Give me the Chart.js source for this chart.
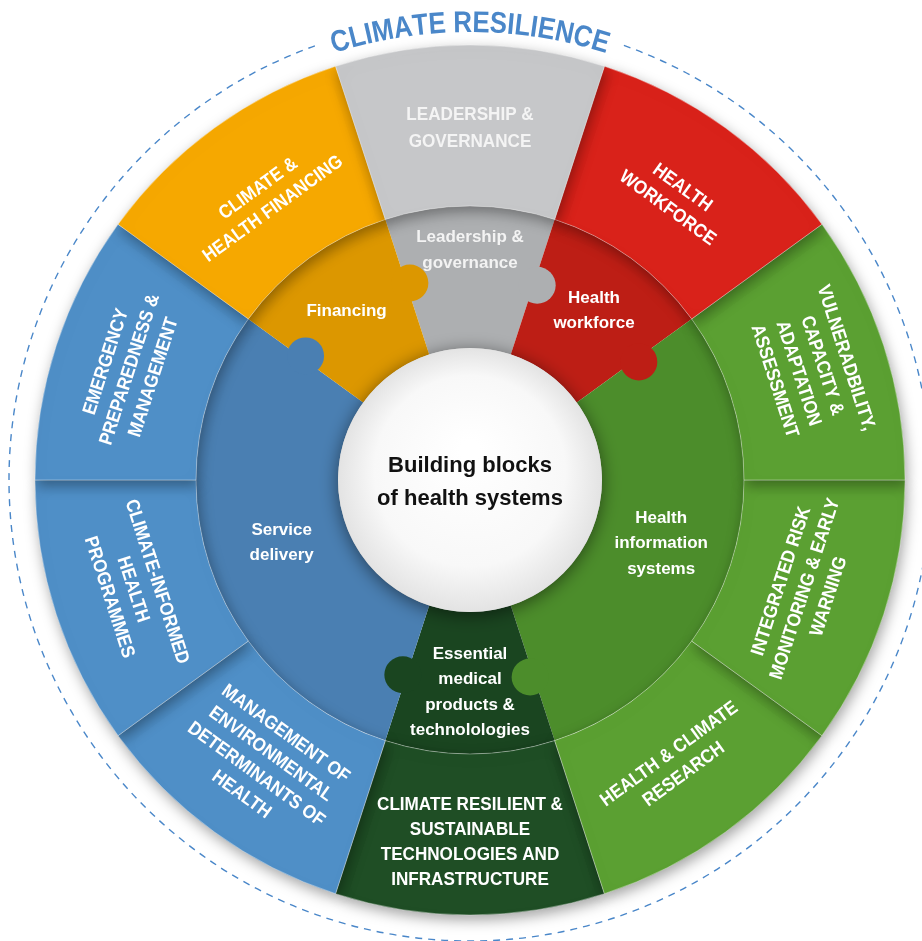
<!DOCTYPE html>
<html><head><meta charset="utf-8">
<script src="https://cdn.jsdelivr.net/npm/chart.js@4.4.1/dist/chart.umd.min.js"></script>
<style>html,body{margin:0;padding:0;background:#fff;}</style>
</head><body>
<canvas id="c" width="922" height="941"></canvas>
<script>
// ---------- DATA ----------
const titleText = 'CLIMATE RESILIENCE';
const centerLines = ['Building blocks', 'of health systems'];
const outerCategories = [
  ['LEADERSHIP &', 'GOVERNANCE'],
  ['HEALTH', 'WORKFORCE'],
  ['VULNERADBILITY,', 'CAPACITY &', 'ADAPTATION', 'ASSESSMENT'],
  ['INTEGRATED RISK', 'MONITORING & EARLY', 'WARNING'],
  ['HEALTH & CLIMATE', 'RESEARCH'],
  ['CLIMATE RESILIENT &', 'SUSTAINABLE', 'TECHNOLOGIES AND', 'INFRASTRUCTURE'],
  ['MANAGEMENT OF', 'ENVIRONMENTAL', 'DETERMINANTS OF', 'HEALTH'],
  ['CLIMATE-INFORMED', 'HEALTH', 'PROGRAMMES'],
  ['EMERGENCY', 'PREPAREDNESS &', 'MANAGEMENT'],
  ['CLIMATE &', 'HEALTH FINANCING']
];
const outerValues = [1, 1, 1, 1, 1, 1, 1, 1, 1, 1];
const innerCategories = [
  ['Leadership &', 'governance'],
  ['Health', 'workforce'],
  ['Health', 'information', 'systems'],
  ['Essential', 'medical', 'products &', 'technolologies'],
  ['Service', 'delivery'],
  ['Financing']
];
const innerValues = [1, 1, 3, 1, 3, 1];

// ---------- STYLE ----------
const outerColors = ['#c6c7c9', '#d9221a', '#5ba032', '#5ba032', '#5ba032', '#1f4e25', '#4f8fc7', '#4f8fc7', '#4f8fc7', '#f6a800'];
const innerColors = ['#adafb1', '#bd1e15', '#4c8d2b', '#1a4520', '#4a7fb2', '#dc9700'];
const outerTextColors = ['#f4f4f4', '#fff', '#fff', '#fff', '#fff', '#fff', '#fff', '#fff', '#fff', '#fff'];
const outerLabelR = [353, 350, 359, 351, 350, 361, 350, 353, 359, 349];
const innerLabelR = [231, 211, 201, 211, 198, 210];
const FONT = '"Liberation Sans", Arial, Helvetica, sans-serif';
const OUTER_R = 435, MID_R = 274, IN_R = 132;

function drawLines(ctx, lines, x, y, rot, font, lh, color, sx) {
  ctx.save();
  ctx.translate(x, y);
  ctx.rotate(rot);
  ctx.scale(sx, 1);
  ctx.font = font; ctx.fillStyle = color;
  ctx.textAlign = 'center'; ctx.textBaseline = 'middle';
  const n = lines.length;
  lines.forEach((t, i) => ctx.fillText(t, 0, (i - (n - 1) / 2) * lh + 1.5));
  ctx.restore();
}

function drawArcText(ctx, text, cx, cy, R, font, color, sx) {
  ctx.save();
  ctx.font = font; ctx.fillStyle = color;
  ctx.textAlign = 'center'; ctx.textBaseline = 'alphabetic';
  const chars = [...text];
  const widths = chars.map(ch => ctx.measureText(ch).width * sx);
  const total = widths.reduce((a, b) => a + b, 0);
  let acc = -total / 2;
  chars.forEach((ch, i) => {
    const ang = (acc + widths[i] / 2) / R;
    ctx.save();
    ctx.translate(cx + R * Math.sin(ang), cy - R * Math.cos(ang));
    ctx.rotate(ang);
    ctx.scale(sx, 1);
    ctx.fillText(ch, 0, 0);
    ctx.restore();
    acc += widths[i];
  });
  ctx.restore();
}

const wheelPlugin = {
  id: 'wheel',
  beforeDatasetDraw(chart, args) {
    if (args.index !== 0) return;
    const ctx = chart.ctx;
    const els = args.meta.data.slice().sort((p, q) =>
      Math.sin((q.startAngle + q.endAngle) / 2) - Math.sin((p.startAngle + p.endAngle) / 2));
    ctx.save();
    ctx.shadowColor = 'rgba(0,0,0,0.36)';
    ctx.shadowBlur = 14; ctx.shadowOffsetX = 2; ctx.shadowOffsetY = 5;
    els.forEach(e => e.draw(ctx, chart.chartArea));
    ctx.restore();
    return false;
  },
  afterDatasetDraw(chart, args) {
    if (args.index !== 1) return;
    const ctx = chart.ctx;
    args.meta.data.forEach((e, i) => {
      const a = e.endAngle + 0.018;
      const r = (e.innerRadius + e.outerRadius) / 2 + 3;
      ctx.save();
      ctx.beginPath();
      ctx.arc(e.x + r * Math.cos(a), e.y + r * Math.sin(a), 18.5, 0, Math.PI * 2);
      ctx.fillStyle = innerColors[i];
      ctx.fill();
      ctx.restore();
    });
  },
  afterDatasetsDraw(chart) {
    const ctx = chart.ctx;
    const m0 = chart.getDatasetMeta(0), m1 = chart.getDatasetMeta(1);
    const cx = m0.data[0].x, cy = m0.data[0].y;
    const inner = m1.data[0].innerRadius;

    // centre disc
    ctx.save();
    ctx.shadowColor = 'rgba(0,0,0,0.5)'; ctx.shadowBlur = 18; ctx.shadowOffsetY = 3;
    const g = ctx.createRadialGradient(cx, cy - 30, 10, cx, cy, inner);
    g.addColorStop(0, '#ffffff'); g.addColorStop(0.7, '#f8f8f8'); g.addColorStop(1, '#e3e3e3');
    ctx.beginPath(); ctx.arc(cx, cy, inner, 0, Math.PI * 2); ctx.fillStyle = g; ctx.fill();
    ctx.restore();

    ctx.save();
    ctx.font = 'bold 22px ' + FONT; ctx.fillStyle = '#111'; ctx.textAlign = 'center'; ctx.textBaseline = 'alphabetic';
    ctx.fillText(centerLines[0], cx, cy - 8);
    ctx.fillText(centerLines[1], cx, cy + 25);
    ctx.restore();

    // inner labels
    m1.data.forEach((e, i) => {
      const a = (e.startAngle + e.endAngle) / 2;
      const r = innerLabelR[i];
      drawLines(ctx, innerCategories[i], e.x + r * Math.cos(a), e.y + r * Math.sin(a), 0,
        'bold 17px ' + FONT, 25.5, i === 0 ? '#f3f3f3' : '#ffffff', 1);
    });

    // outer labels
    m0.data.forEach((e, i) => {
      const a = (e.startAngle + e.endAngle) / 2;
      const r = outerLabelR[i];
      let deg = (a * 180 / Math.PI + 90) % 360;
      if (deg < 0) deg += 360;
      let rot = deg;
      if (deg > 90 && deg < 270) rot = deg - 180;
      else if (deg >= 270) rot = deg - 360;
      drawLines(ctx, outerCategories[i], e.x + r * Math.cos(a), e.y + r * Math.sin(a), rot * Math.PI / 180,
        'bold 19px ' + FONT, i === 0 ? 26.5 : 25, outerTextColors[i], 0.9);
    });

    // dashed ring
    ctx.save();
    ctx.strokeStyle = '#4a87c9'; ctx.lineWidth = 1.4; ctx.setLineDash([7, 6]);
    ctx.beginPath();
    ctx.arc(cx, cy, 461, (-90 + 19.5) * Math.PI / 180, (270 - 19.5) * Math.PI / 180);
    ctx.stroke();
    ctx.restore();

    // title
    drawArcText(ctx, titleText, cx, cy, 448, 'bold 30px ' + FONT, '#4a87c9', 0.86);
  }
};

new Chart(document.getElementById('c'), {
  type: 'doughnut',
  data: {
    labels: outerCategories.map(l => l.join(' ')),
    datasets: [
      { data: outerValues, backgroundColor: outerColors, borderColor: 'rgba(255,255,255,0.35)', borderWidth: 1, weight: OUTER_R - MID_R },
      { data: innerValues, backgroundColor: innerColors, borderWidth: 0, weight: MID_R - IN_R }
    ]
  },
  options: {
    responsive: false,
    animation: false,
    events: [],
    rotation: -18,
    radius: OUTER_R,
    cutout: (IN_R / OUTER_R * 100) + '%',
    layout: { padding: { left: 18, right: 0, top: 19, bottom: 0 } },
    plugins: { legend: { display: false }, tooltip: { enabled: false } }
  },
  plugins: [wheelPlugin]
});
</script>
</body></html>
